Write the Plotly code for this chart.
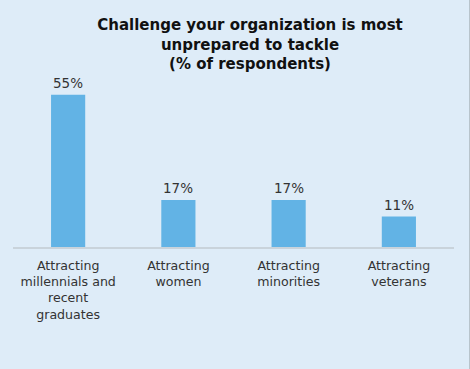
import plotly.graph_objects as go

categories = ["Attracting<br>millennials and<br>recent<br>graduates", "Attracting<br>women",
              "Attracting<br>minorities", "Attracting<br>veterans"]
values = [55, 17, 17, 11]
value_labels = ["55%", "17%", "17%", "11%"]

BG = "#deecf8"
BAR = "#62b3e5"

fig = go.Figure()
fig.add_trace(go.Bar(x=categories, y=values, marker=dict(color=BAR, line=dict(width=0)),
                     width=0.31, hoverinfo="skip"))

for c, v, t in zip(categories, values, value_labels):
    fig.add_annotation(x=c, y=v, text=t, showarrow=False, yanchor="bottom", yshift=2,
                       font=dict(family="DejaVu Sans", size=13.5, color="#333333"))

W, H = 470, 369
L, R, T, B = 13, 16, 81, 122
fig.update_layout(
    width=W, height=H,
    paper_bgcolor=BG, plot_bgcolor=BG,
    margin=dict(l=L, r=R, t=T, b=B, autoexpand=False),
    showlegend=False,
    title=dict(text="<b>Challenge your organization is most<br>unprepared to tackle<br>(% of respondents)</b>",
               x=250 / W, xanchor="center", xref="container",
               y=1 - 30 / H, yanchor="top", yref="container",
               font=dict(family="DejaVu Sans", size=15, color="#111111")),
    xaxis=dict(showgrid=False, showline=True, linecolor="#c9d3db", linewidth=1.5, ticks="",
               ticklabelstandoff=6,
               tickfont=dict(family="DejaVu Sans", size=12.6, color="#333333"), fixedrange=True),
    yaxis=dict(range=[0, 60], visible=False, showgrid=False, zeroline=False, fixedrange=True),
)
# thin right border of the picture
fig.add_shape(type="line", xref="paper", yref="paper",
              x0=(469.5 - L) / (W - L - R), x1=(469.5 - L) / (W - L - R),
              y0=-B / (H - T - B), y1=1 + T / (H - T - B),
              line=dict(color="#b8c4cc", width=1))

fig.write_html("out.html", config={"displayModeBar": False, "staticPlot": True},
               post_script="document.body.style.margin='0';document.body.style.overflow='hidden';"
                           "document.body.style.background='#deecf8';")
